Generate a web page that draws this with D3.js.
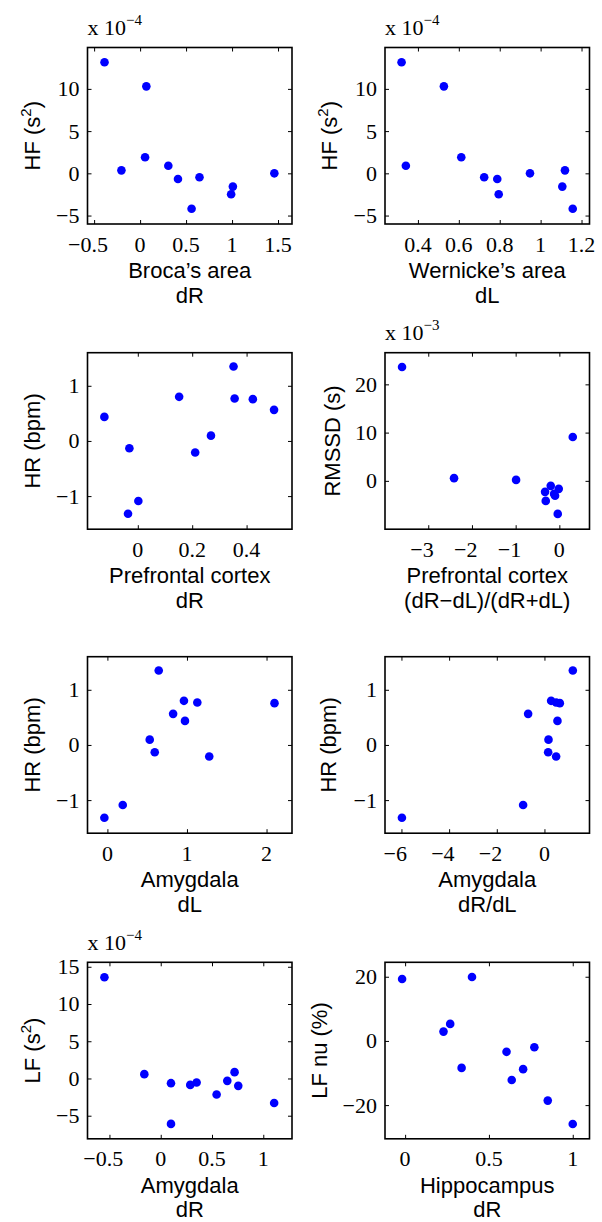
<!DOCTYPE html>
<html>
<head>
<meta charset="utf-8">
<script src="https://cdn.jsdelivr.net/npm/d3@7"></script>
<style>
  html, body { margin: 0; padding: 0; background: #fff; }
  svg { display: block; }
</style>
</head>
<body>
<svg id="chart" width="602" height="1222"></svg>
<script>
// ---------------- DATA ----------------
// HF power (x 10^-4 s^2), one value per subject
const hfVals      = [13.15, 10.3, 0.35, 1.9, 0.9, -0.67, -0.47, -4.2, -1.57, -2.48, 0.0];
const brocaDR     = [-0.387, 0.068, -0.203, 0.054, 0.307, 0.412, 0.646, 0.560, 1.009, 0.990, 1.460];
const wernickeDL  = [0.320, 0.527, 1.119, 0.612, 0.341, 0.788, 0.724, 1.157, 1.106, 0.795, 0.948];

// HR change (bpm)
const hrVals      = [0.436, -0.133, -1.32, -1.09, 0.80, -0.21, 0.096, 1.35, 0.77, 0.758, 0.564];
const pfcDR       = [-0.123, -0.031, -0.036, 0.002, 0.152, 0.211, 0.269, 0.352, 0.356, 0.423, 0.501];
const amyDL       = [0.975, 0.595, -0.038, 0.193, 0.962, 1.28, 0.532, 0.645, 1.13, 2.10, 0.826];
const amyRatio    = [0.546, 0.155, -5.98, -0.895, 0.28, 0.49, 0.17, 1.19, 0.49, 0.645, -0.685];

// RMSSD (x 10^-3 s)
const pfcLat      = [-3.60, -2.41, -0.99, 0.307, -0.327, -0.311, -0.197, -0.098, -0.014, -0.037, -0.12];
const rmssdVals   = [23.6, 0.56, 0.2, 9.1, -2.28, -4.15, -1.04, -3.1, -1.66, -6.85, -2.7];

// LF power (x 10^-4 s^2)
const amyDR       = [-0.549, -0.16, 0.10, 0.10, 0.288, 0.35, 0.545, 0.649, 0.72, 0.756, 1.106];
const lfVals      = [13.6, 0.58, -0.63, -6.1, -0.86, -0.54, -2.15, -0.32, 0.85, -0.99, -3.3];

// LF nu (%)
const hippDR      = [-0.018, 0.399, 0.229, 0.269, 0.337, 0.605, 0.771, 0.636, 0.704, 0.851, 1.0];
const lfnuVals    = [19.3, 19.9, 2.9, 5.3, -8.4, -3.4, -1.96, -12.2, -8.8, -18.6, -25.9];

// tick values
const ticksBrocaX    = [-0.5, 0, 0.5, 1, 1.5];
const ticksWernickeX = [0.4, 0.6, 0.8, 1, 1.2];
const ticksHF        = [-5, 0, 5, 10];
const ticksPfcX      = [0, 0.2, 0.4];
const ticksHR        = [-1, 0, 1];
const ticksPfcLatX   = [-3, -2, -1, 0];
const ticksRMSSD     = [0, 10, 20];
const ticksAmyDLX    = [0, 1, 2];
const ticksAmyRatioX = [-6, -4, -2, 0];
const ticksAmyDRX    = [-0.5, 0, 0.5, 1];
const ticksLF        = [-5, 0, 5, 10, 15];
const ticksHippX     = [0, 0.5, 1];
const ticksLFnu      = [-20, 0, 20];

// ---------------- PANELS ----------------
const panels = [
  { col: 0, row: 0, x: brocaDR,    y: hfVals,    xd: [-0.572, 1.652], yd: [-6, 14.9],      xt: ticksBrocaX,    yt: ticksHF,
    xl: ["Broca\u2019s area", "dR"], yl: ["HF (s", "2", ")"], exp: "\u22124", ylOff: 48 },
  { col: 1, row: 0, x: wernickeDL, y: hfVals,    xd: [0.239, 1.239],   yd: [-6, 14.9],      xt: ticksWernickeX, yt: ticksHF,
    xl: ["Wernicke\u2019s area", "dL"], yl: ["HF (s", "2", ")"], exp: "\u22124", ylOff: 48 },
  { col: 0, row: 1, x: pfcDR,      y: hrVals,    xd: [-0.185, 0.567],  yd: [-1.6, 1.6],     xt: ticksPfcX,      yt: ticksHR,
    xl: ["Prefrontal cortex", "dR"], yl: ["HR (bpm)"], exp: null, ylOff: 48 },
  { col: 1, row: 1, x: pfcLat,     y: rmssdVals, xd: [-3.99, 0.69],    yd: [-10.02, 26.56], xt: ticksPfcLatX,   yt: ticksRMSSD,
    xl: ["Prefrontal cortex", "(dR\u2212dL)/(dR+dL)"], yl: ["RMSSD (s)"], exp: "\u22123", ylOff: 45 },
  { col: 0, row: 2, x: amyDL,      y: hrVals,    xd: [-0.25, 2.32],    yd: [-1.6, 1.6],     xt: ticksAmyDLX,    yt: ticksHR,
    xl: ["Amygdala", "dL"], yl: ["HR (bpm)"], exp: null, ylOff: 48 },
  { col: 1, row: 2, x: amyRatio,   y: hrVals,    xd: [-6.69, 1.89],    yd: [-1.6, 1.6],     xt: ticksAmyRatioX, yt: ticksHR,
    xl: ["Amygdala", "dR/dL"], yl: ["HR (bpm)"], exp: null, ylOff: 49 },
  { col: 0, row: 3, x: amyDR,      y: lfVals,    xd: [-0.714, 1.28],   yd: [-8.1, 15.6],    xt: ticksAmyDRX,    yt: ticksLF,
    xl: ["Amygdala", "dR"], yl: ["LF (s", "2", ")"], exp: "\u22124", ylOff: 48 },
  { col: 1, row: 3, x: hippDR,     y: lfnuVals,  xd: [-0.12, 1.10],    yd: [-30.5, 24.5],   xt: ticksHippX,     yt: ticksLFnu,
    xl: ["Hippocampus", "dR"], yl: ["LF nu (%)"], exp: null, ylOff: 58 }
];

// ---------------- LAYOUT ----------------
const colX = [87.5, 385];
const rowY = [47.5, 352.7, 656.7, 962.3];
const W = 204.5, H = 176.5;
const TICK = 4;
const serif = "'Liberation Serif', 'Times New Roman', serif";
const sans = "'Liberation Sans', Arial, Helvetica, sans-serif";
const FS = 22;
const minusW = 0.564 * FS;

const fmt = d => {
  const s = String(Math.abs(d));
  return d < 0 ? "\u2212" + s : s;
};

const svg = d3.select("#chart");

panels.forEach(p => {
  const x0 = colX[p.col], y0 = rowY[p.row];
  const g = svg.append("g").attr("transform", `translate(${x0},${y0})`);
  const xs = d3.scaleLinear().domain(p.xd).range([0, W]);
  const ys = d3.scaleLinear().domain(p.yd).range([H, 0]);

  // tick marks (inside, all four sides) via d3 axes
  const axB = d3.axisBottom(xs).tickValues(p.xt).tickSize(-TICK).tickFormat("");
  const axT = d3.axisTop(xs).tickValues(p.xt).tickSize(-TICK).tickFormat("");
  const axL = d3.axisLeft(ys).tickValues(p.yt).tickSize(-TICK).tickFormat("");
  const axR = d3.axisRight(ys).tickValues(p.yt).tickSize(-TICK).tickFormat("");
  [[axB, `translate(0,${H})`], [axT, "translate(0,0)"], [axL, "translate(0,0)"], [axR, `translate(${W},0)`]].forEach(([ax, tr]) => {
    const a = g.append("g").attr("transform", tr).call(ax);
    a.select(".domain").remove();
    a.selectAll("line").attr("stroke", "#000").attr("stroke-width", 1);
  });

  // x tick labels (digits centred on tick, minus sign hanging left)
  g.append("g").selectAll("text").data(p.xt).join("text")
    .attr("x", d => xs(d) - (d < 0 ? minusW / 2 : 0))
    .attr("y", H + 27.5)
    .attr("text-anchor", "middle")
    .attr("font-family", serif).attr("font-size", FS).attr("fill", "#000")
    .text(fmt);

  // y tick labels
  g.append("g").selectAll("text").data(p.yt).join("text")
    .attr("x", -8)
    .attr("y", d => ys(d) + 0.34 * FS)
    .attr("text-anchor", "end")
    .attr("font-family", serif).attr("font-size", FS).attr("fill", "#000")
    .text(fmt);

  // box
  g.append("rect").attr("x", 0).attr("y", 0).attr("width", W).attr("height", H)
    .attr("fill", "none").attr("stroke", "#000").attr("stroke-width", 1.6);

  // points
  const pts = p.x.map((v, i) => [v, p.y[i]]);
  g.append("g").selectAll("circle").data(pts).join("circle")
    .attr("cx", d => xs(d[0])).attr("cy", d => ys(d[1]))
    .attr("r", 4.3).attr("fill", "#0000ff");

  // x label (two lines)
  p.xl.forEach((t, i) => {
    g.append("text")
      .attr("x", W / 2).attr("y", H + 54 + i * 24.5)
      .attr("text-anchor", "middle")
      .attr("font-family", sans).attr("font-size", FS).attr("fill", "#000")
      .text(t);
  });

  // y label (rotated)
  const yl = g.append("text")
    .attr("transform", `translate(${-p.ylOff},${H / 2}) rotate(-90)`)
    .attr("text-anchor", "middle")
    .attr("font-family", sans).attr("font-size", FS).attr("fill", "#000");
  yl.append("tspan").text(p.yl[0]);
  if (p.yl.length > 1) {
    yl.append("tspan").attr("dy", -9).attr("font-size", 15).text(p.yl[1]);
    yl.append("tspan").attr("dy", 9).text(p.yl[2]);
  }

  // exponent label
  if (p.exp) {
    const ex = g.append("text").attr("x", 0).attr("y", -12.5)
      .attr("font-family", serif).attr("font-size", FS).attr("fill", "#000");
    ex.append("tspan").text("x 10");
    ex.append("tspan").attr("dy", -10).attr("font-size", 15).text(p.exp);
  }
});
</script>
</body>
</html>
